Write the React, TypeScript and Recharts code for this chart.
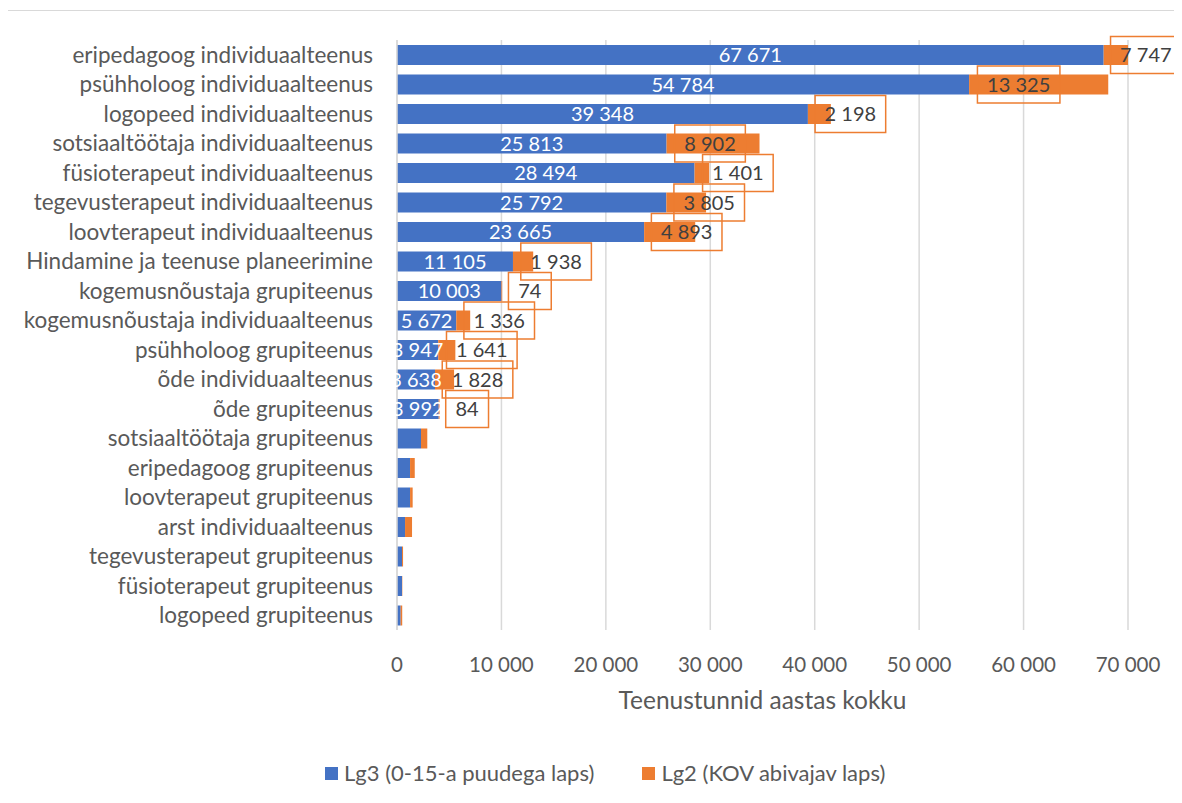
import React from 'react';
import { BarChart, Bar, XAxis, YAxis, CartesianGrid, LabelList } from 'recharts';

const categories = [
  'eripedagoog individuaalteenus',
  'psühholoog individuaalteenus',
  'logopeed individuaalteenus',
  'sotsiaaltöötaja individuaalteenus',
  'füsioterapeut individuaalteenus',
  'tegevusterapeut individuaalteenus',
  'loovterapeut individuaalteenus',
  'Hindamine ja teenuse planeerimine',
  'kogemusnõustaja grupiteenus',
  'kogemusnõustaja individuaalteenus',
  'psühholoog grupiteenus',
  'õde individuaalteenus',
  'õde grupiteenus',
  'sotsiaaltöötaja grupiteenus',
  'eripedagoog grupiteenus',
  'loovterapeut grupiteenus',
  'arst individuaalteenus',
  'tegevusterapeut grupiteenus',
  'füsioterapeut grupiteenus',
  'logopeed grupiteenus',
];

// Lg3 (0-15-a puudega laps)
const lg3Hours = [67671, 54784, 39348, 25813, 28494, 25792, 23665, 11105, 10003, 5672, 3947, 3638, 3992, 2300, 1250, 1250, 770, 480, 480, 350];
// Lg2 (KOV abivajav laps)
const lg2Hours = [7747, 13325, 2198, 8902, 1401, 3805, 4893, 1938, 74, 1336, 1641, 1828, 84, 600, 450, 250, 670, 100, 30, 150];

const xTicks = [0, 10000, 20000, 30000, 40000, 50000, 60000, 70000];

// only the first rows carry value labels; callouts were dragged sideways by hand (px)
const labelledRows = 13;
const calloutNudge = [30, -20, 31, -3, 36, 23, 17, 33, 28, 36, 35, 33, 28];

const BLUE = '#4472C4';
const ORANGE = '#ED7D31';
const GRID = '#d9d9d9';
const TEXT = '#595959';
const FONT = 'Lato, "Noto Sans", sans-serif';

const data = categories.map((name, i) => ({
  name,
  lg3: lg3Hours[i],
  lg2: lg2Hours[i],
}));

const fmt = (v: number) => String(v).replace(/\B(?=(\d{3})+(?!\d))/g, ' ');

const readBox = (props: any) => {
  const vb = props.viewBox && props.viewBox.width !== undefined ? props.viewBox : props;
  return { x: Number(vb.x), y: Number(vb.y), width: Number(vb.width), height: Number(vb.height) };
};

const InsideLabel = (props: any) => {
  const { index, value } = props;
  if (index >= labelledRows) return null;
  const { x, y, width, height } = readBox(props);
  return (
    <text
      x={x + width / 2}
      y={y + height / 2}
      dy="0.36em"
      textAnchor="middle"
      fill="#ffffff"
      fontSize={20}
      fontFamily={FONT}
    >
      {fmt(value)}
    </text>
  );
};

const Callout = (props: any) => {
  const { index, value } = props;
  if (index >= labelledRows) return null;
  const { x, y, width, height } = readBox(props);
  const txt = fmt(value);
  const digits = txt.replace(/ /g, '').length;
  const spaces = txt.length - digits;
  const boxW = digits * 11.9 + spaces * 4 + 19;
  const boxH = 37;
  const cx = x + width / 2 + calloutNudge[index];
  const cy = y + height / 2;
  return (
    <g>
      <rect
        x={cx - boxW / 2}
        y={cy - boxH / 2}
        width={boxW}
        height={boxH}
        fill="none"
        stroke={ORANGE}
        strokeWidth={1.5}
      />
      <text
        x={cx}
        y={cy}
        dy="0.36em"
        textAnchor="middle"
        fill="#404040"
        fontSize={20}
        fontFamily={FONT}
      >
        {txt}
      </text>
    </g>
  );
};

const LegendItem = ({ color, label }: { color: string; label: string }) => (
  <div style={{ display: 'flex', alignItems: 'center' }}>
    <span style={{ width: 13, height: 13, background: color, display: 'inline-block', marginRight: 6 }} />
    <span>{label}</span>
  </div>
);

export default function App() {
  return (
    <div
      style={{
        position: 'relative',
        top: 2,
        left: -1,
        width: 1174,
        height: 793,
        boxSizing: 'border-box',
        borderTop: `1px solid ${GRID}`,
        borderLeft: `1px solid ${GRID}`,
        fontFamily: FONT,
      }}
    >
      <BarChart
        width={1173}
        height={720}
        data={data}
        layout="vertical"
        margin={{ top: 29, right: 53, left: 0, bottom: 11 }}
        barSize={20}
      >
        <CartesianGrid horizontal={false} stroke={GRID} strokeWidth={1.5} />
        <XAxis
          type="number"
          domain={[0, 70000]}
          ticks={xTicks}
          allowDataOverflow
          axisLine={false}
          tickLine={false}
          tickSize={0}
          tickMargin={27}
          height={90}
          tickFormatter={fmt}
          tick={{ fill: TEXT, fontSize: 20.5, fontFamily: FONT }}
          label={{
            value: 'Teenustunnid aastas kokku',
            position: 'insideTop',
            offset: 62,
            fill: TEXT,
            fontSize: 24.5,
            fontFamily: FONT,
          }}
        />
        <YAxis
          type="category"
          dataKey="name"
          width={389}
          interval={0}
          axisLine={{ stroke: GRID, strokeWidth: 1.5 }}
          tickLine={false}
          tickSize={0}
          tickMargin={24}
          tick={{ fill: TEXT, fontSize: 22.5, fontFamily: FONT }}
        />
        <Bar dataKey="lg3" stackId="h" fill={BLUE} isAnimationActive={false}>
          <LabelList dataKey="lg3" content={InsideLabel} />
        </Bar>
        <Bar dataKey="lg2" stackId="h" fill={ORANGE} isAnimationActive={false}>
          <LabelList dataKey="lg2" content={Callout} />
        </Bar>
      </BarChart>
      <div
        style={{
          position: 'absolute',
          top: 751,
          left: 317,
          height: 22,
          display: 'flex',
          gap: 48,
          fontSize: 22,
          lineHeight: '22px',
          color: TEXT,
        }}
      >
        <LegendItem color={BLUE} label="Lg3 (0-15-a puudega laps)" />
        <LegendItem color={ORANGE} label="Lg2 (KOV abivajav laps)" />
      </div>
    </div>
  );
}
